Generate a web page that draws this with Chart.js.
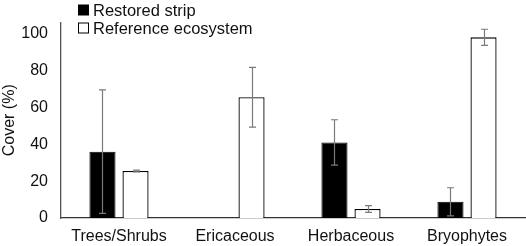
<!DOCTYPE html>
<html lang="en">
<head>
  <meta charset="UTF-8">
  <title>Cover by plant group</title>
  <script src="https://cdn.jsdelivr.net/npm/chart.js@4.4.0/dist/chart.umd.min.js"></script>
  <style>
    html, body { margin: 0; padding: 0; background: #fff; }
    #wrap { width: 526px; height: 246px; }
  </style>
</head>
<body>
  <div id="wrap"><canvas id="coverChart" width="526" height="246"></canvas></div>

  <script>
    // data
    const groups = ["Trees/Shrubs", "Ericaceous", "Herbaceous", "Bryophytes"];
    const seriesNames = ["Restored strip", "Reference ecosystem"];
    const restored = [36, 0, 41, 8.8];
    const restoredErr = [33.5, 0, 12.3, 7.6];
    const reference = [25.5, 65.5, 4.9, 98];
    const referenceErr = [0.5, 16.2, 1.8, 4.4];
    const yTicks = [0, 20, 40, 60, 80, 100];

    const FONT = "'Liberation Sans', Arial, sans-serif";

    // error bars drawn on top of the bars
    const errorBars = {
      id: 'errorBars',
      afterDatasetsDraw(chart) {
        const ctx = chart.ctx;
        const y = chart.scales.y;
        ctx.save();
        ctx.strokeStyle = '#7a7a7a';
        ctx.lineWidth = 1.2;
        chart.data.datasets.forEach((ds, i) => {
          const meta = chart.getDatasetMeta(i);
          meta.data.forEach((bar, j) => {
            const e = ds.errors[j];
            if (!e) return;
            const v = ds.data[j];
            const top = y.getPixelForValue(v + e);
            const bot = y.getPixelForValue(Math.max(v - e, 0));
            const x = Math.round(bar.x) + 0.5;
            ctx.beginPath();
            ctx.moveTo(x, top); ctx.lineTo(x, bot);
            ctx.moveTo(x - 3.5, top); ctx.lineTo(x + 3.5, top);
            ctx.moveTo(x - 3.5, bot); ctx.lineTo(x + 3.5, bot);
            ctx.stroke();
          });
        });
        ctx.restore();
      }
    };

    // legend sits inside the plot, top left
    const insideLegend = {
      id: 'insideLegend',
      afterDraw(chart) {
        const ctx = chart.ctx;
        ctx.save();
        ctx.font = '16.5px ' + FONT;
        ctx.textBaseline = 'middle';
        chart.data.datasets.forEach((ds, i) => {
          const cy = 10 + i * 18;
          ctx.fillStyle = ds.backgroundColor;
          ctx.strokeStyle = '#000';
          ctx.lineWidth = 1;
          ctx.fillRect(78.5, cy - 5, 10, 10);
          ctx.strokeRect(78.5, cy - 5, 10, 10);
          ctx.fillStyle = '#111';
          ctx.fillText(ds.label, 93, cy + 1);
        });
        ctx.restore();
      }
    };

    new Chart(document.getElementById('coverChart'), {
      type: 'bar',
      data: {
        labels: groups,
        datasets: [
          {
            label: seriesNames[0],
            data: restored,
            errors: restoredErr,
            backgroundColor: '#000',
            borderColor: '#000',
            borderWidth: 1
          },
          {
            label: seriesNames[1],
            data: reference,
            errors: referenceErr,
            backgroundColor: '#fff',
            borderColor: '#000',
            borderWidth: 1.3
          }
        ]
      },
      options: {
        responsive: false,
        animation: false,
        events: [],
        layout: { padding: { left: 0, right: 1, top: 1, bottom: 0 } },
        datasets: { bar: { categoryPercentage: 0.57, barPercentage: 0.79 } },
        plugins: { legend: { display: false }, tooltip: { enabled: false } },
        scales: {
          x: {
            grid: { display: false, drawTicks: false },
            border: { color: '#333', width: 1.3 },
            ticks: { color: '#111', font: { family: FONT, size: 16 }, padding: 9 },
            afterFit(s) { s.height = 28; }
          },
          y: {
            min: 0,
            max: 106,
            grid: { display: false, drawTicks: false },
            border: { color: '#555', width: 1.3 },
            afterBuildTicks(s) { s.ticks = yTicks.map(v => ({ value: v })); },
            ticks: { color: '#111', font: { family: FONT, size: 16 }, padding: 13 },
            title: { display: true, text: 'Cover (%)', color: '#111', font: { family: FONT, size: 16 }, padding: 0 },
            afterFit(s) { s.width = 61; }
          }
        }
      },
      plugins: [errorBars, insideLegend]
    });
  </script>
</body>
</html>
